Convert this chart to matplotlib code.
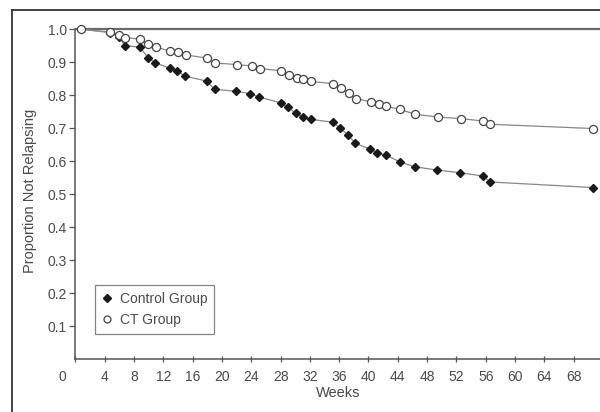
import matplotlib.pyplot as plt
import matplotlib.transforms as mtransforms
from matplotlib.lines import Line2D

plt.rcParams['font.family'] = ['Liberation Sans Narrow', 'Liberation Sans', 'DejaVu Sans']

# CT group (open circles)
ct_weeks = [0.8, 4.7, 5.9, 6.8, 8.8, 9.9, 11.0, 12.9, 14.0, 15.1, 17.9, 19.0, 22.0, 24.1,
            25.2, 28.1, 29.2, 30.2, 31.1, 32.1, 35.2, 36.2, 37.3, 38.3, 40.3, 41.4, 42.4,
            44.3, 46.4, 49.5, 52.6, 55.6, 56.6, 70.7]
ct_prop = [1.0, 0.992, 0.982, 0.975, 0.970, 0.955, 0.946, 0.934, 0.930, 0.922, 0.913, 0.898,
           0.893, 0.889, 0.881, 0.874, 0.861, 0.851, 0.848, 0.842, 0.835, 0.823, 0.807, 0.790,
           0.780, 0.773, 0.767, 0.757, 0.742, 0.734, 0.729, 0.722, 0.712, 0.699]

# Control group (filled diamonds)
ctrl_weeks = [0.8, 4.7, 5.9, 6.8, 8.8, 9.9, 10.9, 12.9, 13.9, 14.9, 17.9, 19.0, 21.9, 23.8,
              25.0, 28.0, 29.0, 30.1, 31.1, 32.1, 35.2, 36.1, 37.2, 38.2, 40.2, 41.2, 42.4,
              44.3, 46.3, 49.4, 52.5, 55.6, 56.6, 70.7]
ctrl_prop = [1.0, 0.99, 0.977, 0.950, 0.946, 0.914, 0.898, 0.882, 0.875, 0.858, 0.843, 0.818,
             0.812, 0.805, 0.795, 0.777, 0.763, 0.745, 0.735, 0.727, 0.718, 0.701, 0.679, 0.654,
             0.637, 0.625, 0.618, 0.598, 0.583, 0.573, 0.565, 0.555, 0.537, 0.520]

xticks = list(range(0, 69, 4))
yticks = [0.1, 0.2, 0.3, 0.4, 0.5, 0.6, 0.7, 0.8, 0.9, 1.0]

fig = plt.figure(figsize=(6, 4.12), dpi=100)
ax = fig.add_axes([0.1257, 0.1286, 0.8743, 0.8163])

txt = '#4a4a4a'
ax.axhline(1.0, color='#6a6a6a', lw=1.6, zorder=1)

ax.plot(ctrl_weeks, ctrl_prop, color='#888888', lw=0.9, zorder=2)
ax.plot(ctrl_weeks, ctrl_prop, ls='none', marker='D', ms=3.9, color='#1a1a1a', zorder=3)
ax.plot(ct_weeks, ct_prop, color='#888888', lw=0.9, zorder=2)
ax.plot(ct_weeks, ct_prop, ls='none', marker='o', ms=5.8, mfc='white', mec='#444444',
        mew=0.9, zorder=4)

ax.set_xlim(0, 71.6)
ax.set_ylim(0, 1.02)
ax.set_xticks(xticks)
ax.set_xticklabels([str(v) for v in xticks])
ax.set_yticks(yticks)
ax.set_yticklabels(['%.1f' % v for v in yticks])
ax.tick_params(axis='both', colors='#555555', labelcolor=txt, labelsize=10, length=4, width=0.9)
ax.tick_params(axis='x', direction='inout', pad=6)
ax.tick_params(axis='y', direction='out', pad=2)

# shift the "0" label left of the origin
lab0 = ax.get_xticklabels()[0]
lab0.set_transform(lab0.get_transform() + mtransforms.ScaledTranslation(-13 / 100, 0, fig.dpi_scale_trans))

for s in ['top', 'right']:
    ax.spines[s].set_visible(False)
for s in ['left', 'bottom']:
    ax.spines[s].set_color('#555555')
    ax.spines[s].set_linewidth(1.1)
ax.spines['left'].set_bounds(0, 1.0)

ax.set_ylabel('Proportion Not Relapsing', color=txt, fontsize=10.5, labelpad=8)
ax.set_xlabel('Weeks', color=txt, fontsize=10.5, labelpad=1)

handles = [Line2D([], [], ls='none', marker='D', ms=3.6, color='#1a1a1a'),
           Line2D([], [], ls='none', marker='o', ms=5, mfc='white', mec='#444444', mew=0.9)]
leg = ax.legend(handles, ['Control Group', 'CT Group'], loc='lower left',
                bbox_to_anchor=(0.037, 0.075), fontsize=10, frameon=True, fancybox=False,
                edgecolor='#666666', handlelength=0.8, handletextpad=0.5, borderpad=0.5,
                labelspacing=0.5, borderaxespad=0)
leg.get_frame().set_linewidth(0.9)
for t in leg.get_texts():
    t.set_color(txt)

# outer frame of the scanned figure
fig.add_artist(Line2D([0.02, 0.02], [0.0, 0.976], color='#333333', lw=1.3, transform=fig.transFigure))
fig.add_artist(Line2D([0.02, 1.0], [0.976, 0.976], color='#333333', lw=1.3, transform=fig.transFigure))

fig.savefig('out.png', dpi=100)
